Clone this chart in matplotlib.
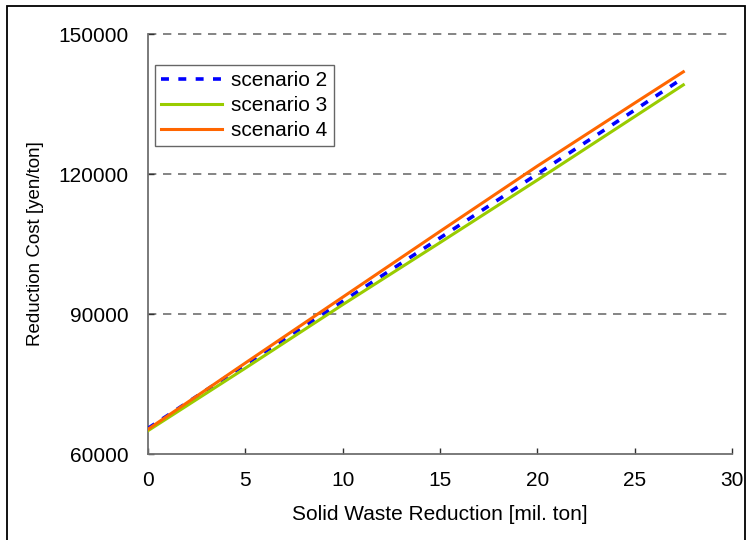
import matplotlib
matplotlib.use("Agg")
import matplotlib.pyplot as plt
from matplotlib.patches import Rectangle

plt.rcParams['font.family'] = ['Liberation Sans', 'DejaVu Sans']

# Solid waste reduction [mil. ton]
reduction = [0, 5, 10, 15, 20, 25, 27.5]

# Reduction cost [yen/ton] per scenario
scenario2 = [65500, 79200, 92700, 106300, 120000, 133700, 140600]
scenario3 = [65000, 78400, 92000, 105300, 118700, 132300, 139100]
scenario4 = [65300, 79500, 93600, 107700, 121700, 135200, 141900]

x_ticks = [0, 5, 10, 15, 20, 25, 30]
y_ticks = [60000, 90000, 120000, 150000]

fig = plt.figure(figsize=(7.51, 5.40), dpi=100)
ax = fig.add_axes([148 / 751, 1 - 454 / 540, (732 - 148) / 751, (454 - 34) / 540])

ax.plot(reduction, scenario2, color='#0000FF', lw=2.6, ls=(0, (2.2, 2.6)),
        label='scenario 2', zorder=3)
ax.plot(reduction, scenario3, color='#99CC00', lw=2.2, label='scenario 3', zorder=3)
ax.plot(reduction, scenario4, color='#FF6600', lw=2.2, label='scenario 4', zorder=4)

ax.set_xlim(0, 30)
ax.set_ylim(60000, 150000)
ax.set_xticks(x_ticks)
ax.set_yticks(y_ticks)
ax.set_xticklabels([str(v) for v in x_ticks])
ax.set_yticklabels([str(v) for v in y_ticks])

for side in ('top', 'right'):
    ax.spines[side].set_visible(False)
for side in ('left', 'bottom'):
    ax.spines[side].set_color('#707070')
    ax.spines[side].set_linewidth(1.3)

ax.tick_params(direction='in', length=4, width=1, colors='#303030',
               labelsize=15, labelcolor='black')
ax.tick_params(axis='x', pad=12)
ax.tick_params(axis='y', pad=14)

for yv in y_ticks[1:]:
    ax.axhline(yv, color='#707070', lw=1.2, ls=(0, (5, 4)), zorder=1, clip_on=False)

ax.set_xlabel('Solid Waste Reduction [mil. ton]', fontsize=15, labelpad=11)
ax.set_ylabel('Reduction Cost [yen/ton]', fontsize=13.5, labelpad=10)

leg = ax.legend(loc='upper left', bbox_to_anchor=(155 / 751, 1 - 65 / 540),
                bbox_transform=fig.transFigure, fontsize=15, frameon=True,
                fancybox=False, edgecolor='#404040', handlelength=2.9,
                handletextpad=0.45, borderpad=0.3, labelspacing=0.28,
                borderaxespad=0)
leg.get_frame().set_linewidth(1.0)

fig.patches.append(Rectangle((7 / 751, -0.02), (745 - 7) / 751, 1 - 6 / 540 + 0.02,
                             transform=fig.transFigure, fill=False,
                             edgecolor='black', lw=1.3))

fig.savefig('out.png', dpi=100)
